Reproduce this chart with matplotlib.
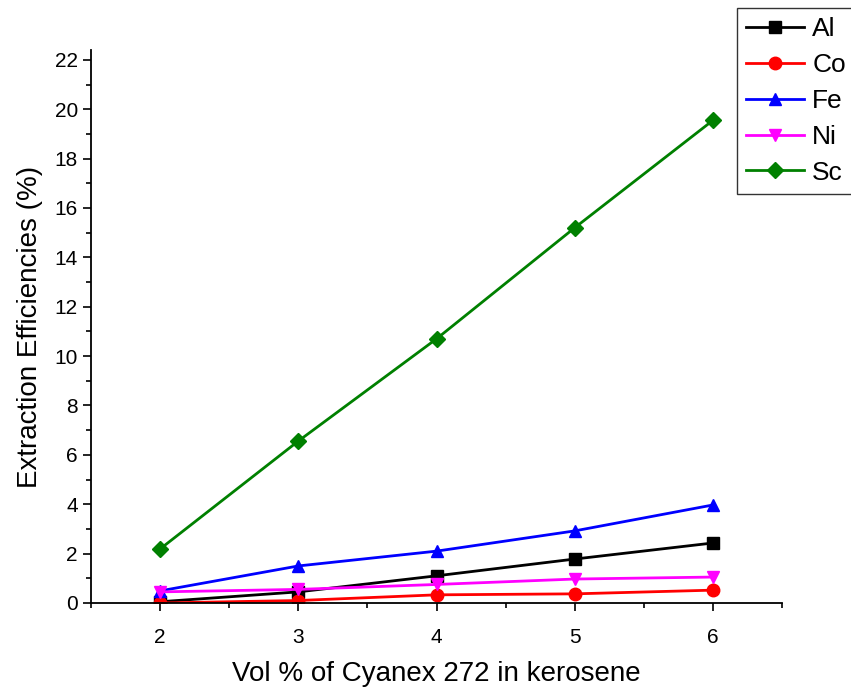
import matplotlib
matplotlib.use("Agg")
import matplotlib.pyplot as plt
from matplotlib.ticker import MultipleLocator

plt.rcParams['font.family'] = ['Liberation Sans', 'DejaVu Sans']

# data
vol = [2, 3, 4, 5, 6]
al = [0.05, 0.45, 1.1, 1.78, 2.43]
co = [0.0, 0.1, 0.33, 0.37, 0.52]
fe = [0.49, 1.5, 2.1, 2.92, 3.97]
ni = [0.45, 0.55, 0.75, 0.97, 1.05]
sc = [2.19, 6.56, 10.7, 15.2, 19.55]

fig = plt.figure(figsize=(8.51, 6.87), dpi=100)
ax = fig.add_axes([0.107, 0.1223, 0.812, 0.805])

ax.plot(vol, al, color='black', marker='s', markersize=8, lw=2, label='Al')
ax.plot(vol, co, color='red', marker='o', markersize=9, lw=2, label='Co')
ax.plot(vol, fe, color='blue', marker='^', markersize=9, lw=2, label='Fe')
ax.plot(vol, ni, color='magenta', marker='v', markersize=9, lw=2, label='Ni')
ax.plot(vol, sc, color='green', marker='D', markersize=8, lw=2, label='Sc')

ax.set_xlim(1.5, 6.5)
ax.set_ylim(0, 22.4)
ax.xaxis.set_major_locator(MultipleLocator(1))
ax.xaxis.set_minor_locator(MultipleLocator(0.5))
ax.yaxis.set_major_locator(MultipleLocator(2))
ax.yaxis.set_minor_locator(MultipleLocator(1))
ax.tick_params(which='major', direction='out', length=6, width=1.2, labelsize=15)
ax.tick_params(axis='x', which='major', pad=12)
ax.tick_params(which='minor', direction='out', length=3.5, width=1.2)
ax.spines['top'].set_visible(False)
ax.spines['right'].set_visible(False)
for s in ['left', 'bottom']:
    ax.spines[s].set_linewidth(1.3)

ax.set_xlabel("Vol % of Cyanex 272 in kerosene", fontsize=20, labelpad=10)
ax.set_ylabel("Extraction Efficiencies (%)", fontsize=20, labelpad=8)

leg = fig.legend(loc='upper left', bbox_to_anchor=(737/851, 1 - 8/687),
                 fontsize=19, frameon=True, fancybox=False, edgecolor='black',
                 handlelength=2.2, handletextpad=0.3, borderpad=0.35,
                 labelspacing=0.45, borderaxespad=0)
leg.get_frame().set_linewidth(1.0)

fig.savefig("out.png", dpi=100)
